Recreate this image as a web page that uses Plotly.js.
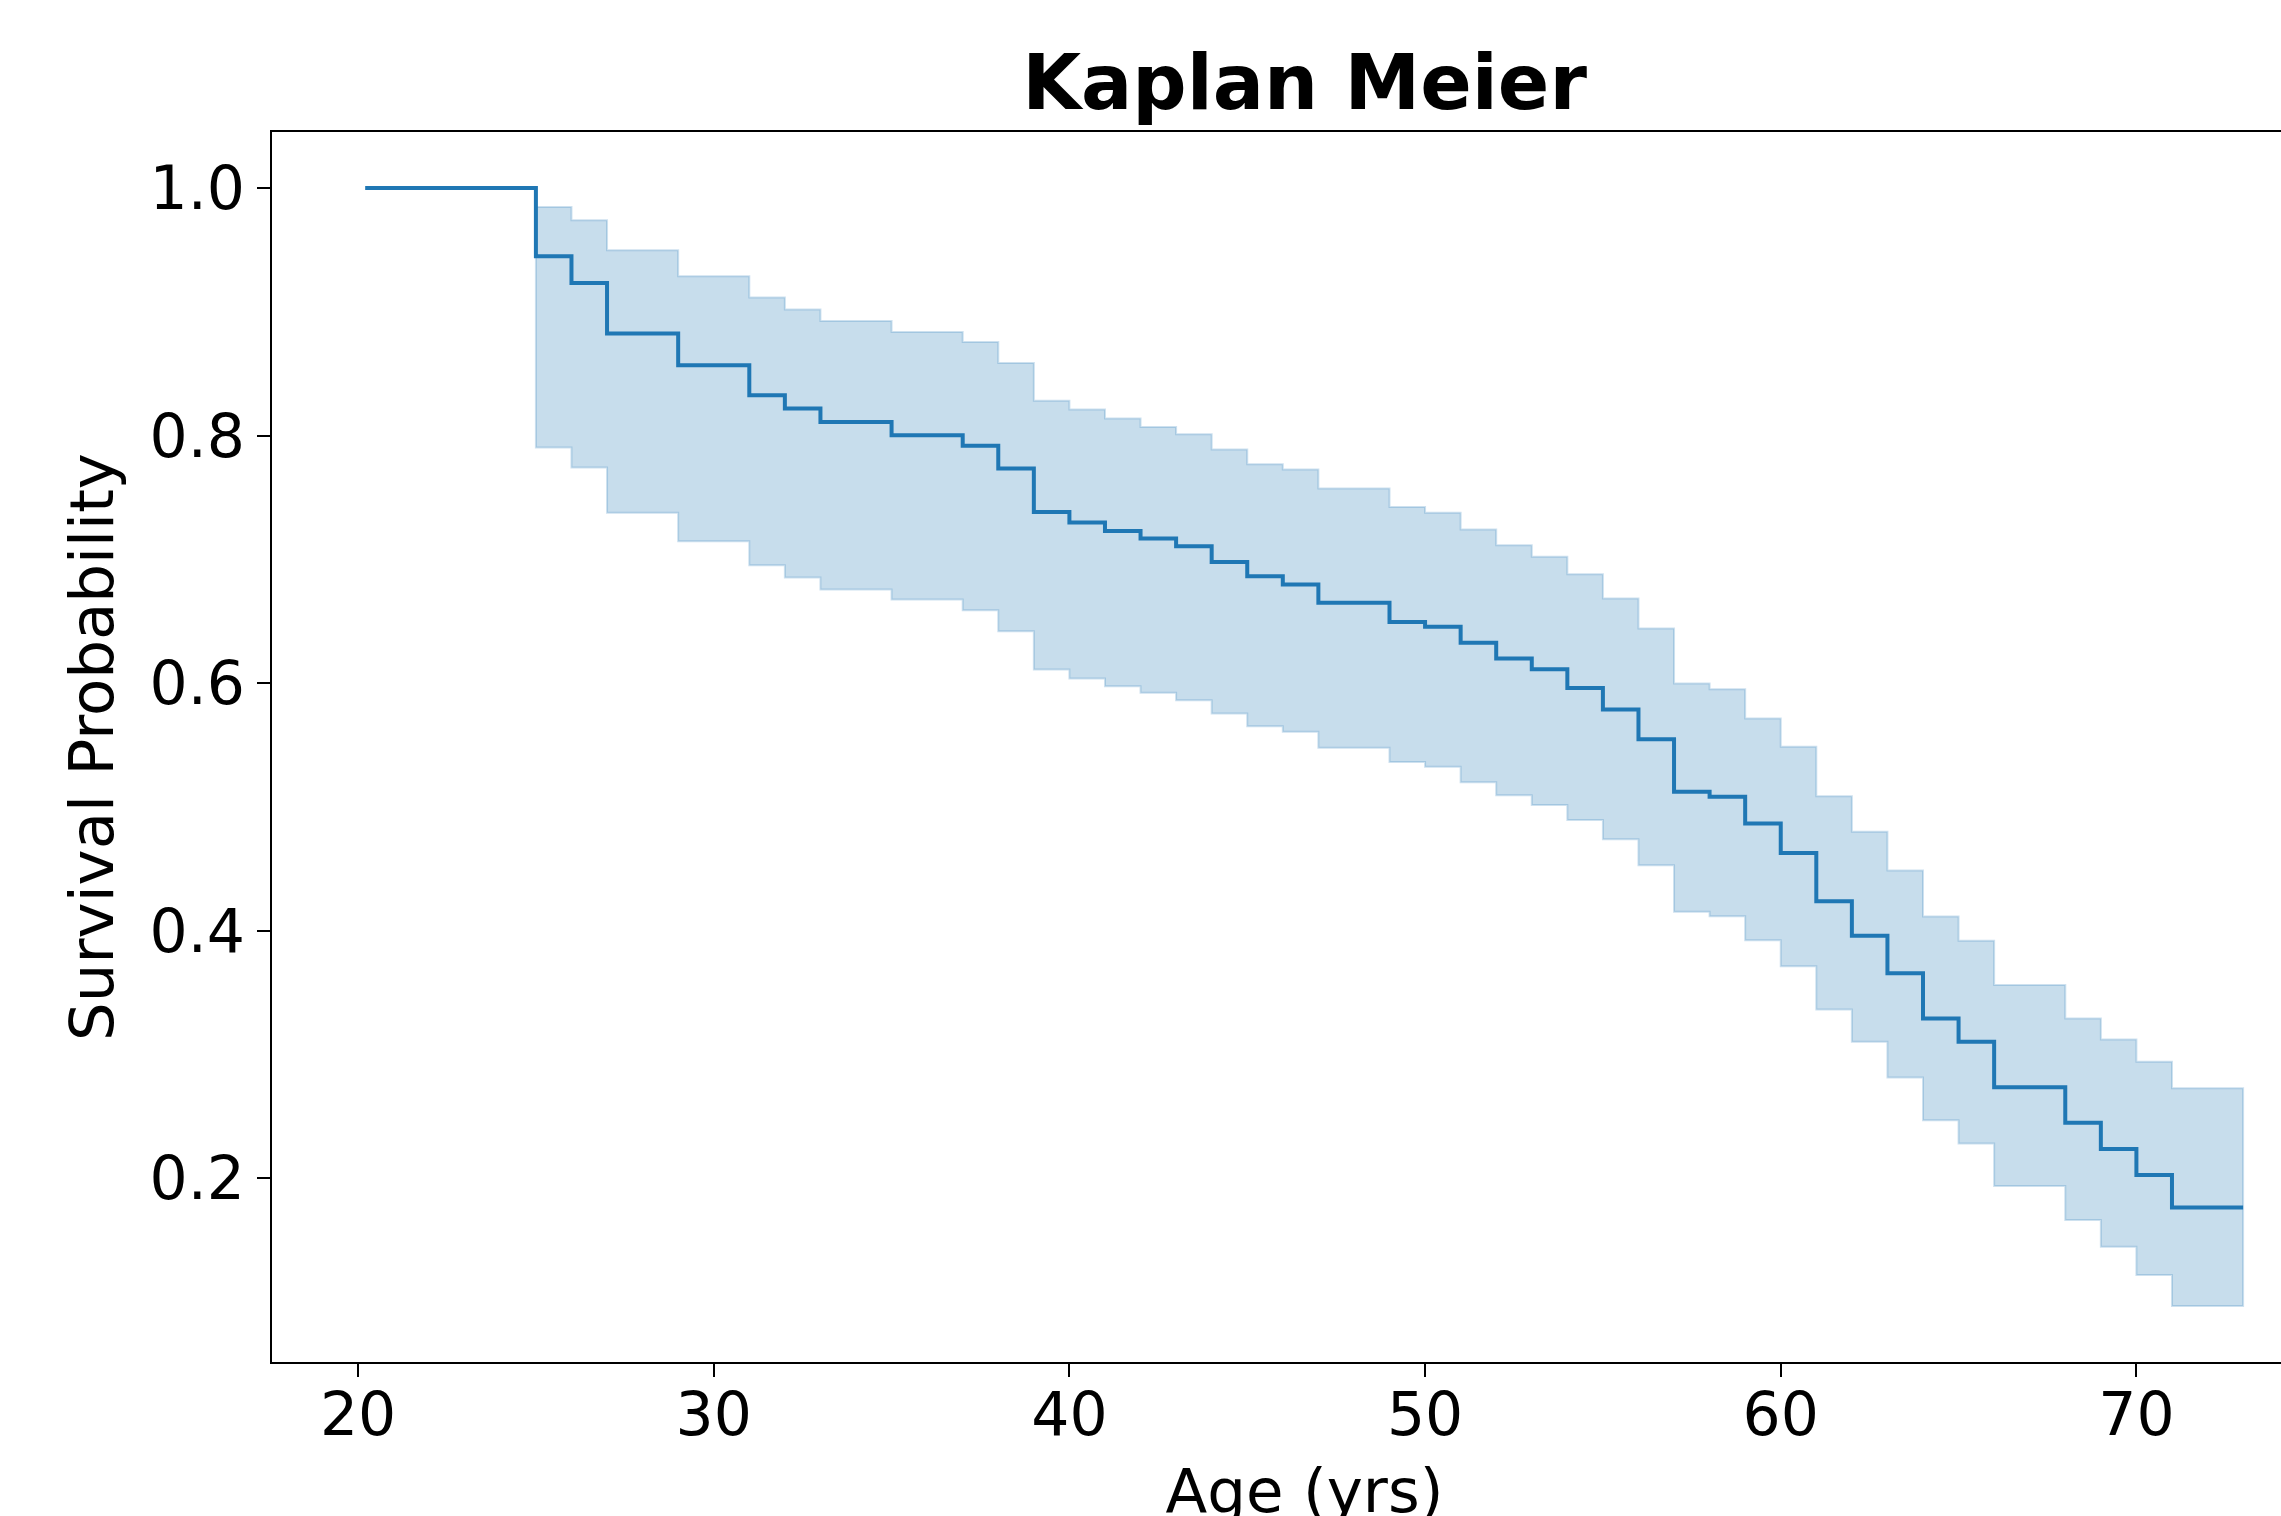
<!DOCTYPE html>
<html>
<head>
<meta charset="utf-8">
<script src="https://cdn.plot.ly/plotly-3.0.1.min.js"></script>
<style>
  html, body { margin: 0; padding: 0; overflow: hidden; background: #fff; }
  #chart { width: 2400px; height: 1560px; }
</style>
</head>
<body>
<div id="chart"></div>
<script>
// Kaplan-Meier estimate (step changes at event ages)
const startAge = 20.2;
const endAge = 73;
const eventAges = [25, 26, 27, 29, 31, 32, 33, 35, 37, 38, 39, 40, 41, 42, 43, 44, 45, 46, 47, 49,
                   50, 51, 52, 53, 54, 55, 56, 57, 58, 59, 60, 61, 62, 63, 64, 65, 66, 68, 69, 70, 71];
const survival = [0.9448, 0.9233, 0.8824, 0.8568, 0.8325, 0.8218, 0.8110, 0.8002, 0.7918, 0.7733,
                  0.7383, 0.7297, 0.7229, 0.7168, 0.7106, 0.6979, 0.6863, 0.6796, 0.6648, 0.6494,
                  0.6454, 0.6325, 0.6199, 0.6112, 0.5961, 0.5787, 0.5547, 0.5121, 0.5081, 0.4866,
                  0.4628, 0.4238, 0.3958, 0.3656, 0.3291, 0.3102, 0.2734, 0.2447, 0.2235, 0.2025, 0.1764];
const upperCI = [0.9847, 0.9739, 0.9497, 0.9287, 0.9115, 0.9018, 0.8926, 0.8837, 0.8756, 0.8586,
                 0.8280, 0.8210, 0.8137, 0.8069, 0.8010, 0.7887, 0.7768, 0.7725, 0.7572, 0.7423,
                 0.7375, 0.7241, 0.7114, 0.7020, 0.6880, 0.6683, 0.6441, 0.5997, 0.5951, 0.5714,
                 0.5485, 0.5086, 0.4798, 0.4485, 0.4114, 0.3918, 0.3560, 0.3291, 0.3121, 0.2940, 0.2726];
const lowerCI = [0.7903, 0.7741, 0.7375, 0.7146, 0.6952, 0.6853, 0.6756, 0.6675, 0.6589, 0.6418,
                 0.6110, 0.6037, 0.5975, 0.5921, 0.5862, 0.5754, 0.5652, 0.5606, 0.5477, 0.5363,
                 0.5323, 0.5198, 0.5094, 0.5014, 0.4893, 0.4739, 0.4529, 0.4152, 0.4117, 0.3923,
                 0.3713, 0.3363, 0.3102, 0.2814, 0.2469, 0.2281, 0.1936, 0.1662, 0.1446, 0.1217, 0.0967];
const xTicks = [20, 30, 40, 50, 60, 70];
const yTicks = [0.2, 0.4, 0.6, 0.8, 1.0];

// survival line (post-step)
const lineX = [startAge].concat(eventAges, [endAge]);
const lineY = [1.0].concat(survival, [survival[survival.length - 1]]);

// confidence band polygon built from the step arrays
function stepPoints(xs, ys, xEnd) {
  const px = [], py = [];
  for (let i = 0; i < xs.length; i++) {
    const xNext = (i + 1 < xs.length) ? xs[i + 1] : xEnd;
    px.push(xs[i], xNext);
    py.push(ys[i], ys[i]);
  }
  return [px, py];
}
const up = stepPoints(eventAges, upperCI, endAge);
const lo = stepPoints(eventAges, lowerCI, endAge);
const bandX = up[0].concat(lo[0].slice().reverse(), [up[0][0]]);
const bandY = up[1].concat(lo[1].slice().reverse(), [up[1][0]]);

const C0 = '#1f77b4';
const traces = [
  {
    x: bandX, y: bandY, type: 'scatter', mode: 'lines',
    fill: 'toself', fillcolor: 'rgba(31,119,180,0.25)',
    line: { color: 'rgba(31,119,180,0.22)', width: 2 },
    hoverinfo: 'skip', showlegend: false
  },
  {
    x: lineX, y: lineY, type: 'scatter', mode: 'lines',
    line: { color: C0, width: 4, shape: 'hv' },
    showlegend: false
  }
];

const axisCommon = {
  showgrid: false, zeroline: false,
  showline: true, mirror: true, linecolor: '#000', linewidth: 2,
  ticks: 'outside', ticklen: 13, tickwidth: 2, tickcolor: '#000',
  tickfont: { family: 'DejaVu Sans', size: 60, color: '#000' },
  automargin: false
};

const layout = {
  width: 2400, height: 1560,
  margin: { l: 272, r: 62.5, t: 132, b: 198 },
  paper_bgcolor: '#fff', plot_bgcolor: '#fff',
  font: { family: 'DejaVu Sans', color: '#000' },
  title: {
    text: '<b>Kaplan Meier</b>',
    font: { family: 'DejaVu Sans', size: 76, color: '#000' },
    x: 0.5, xref: 'paper', xanchor: 'center',
    y: 1, yref: 'paper', yanchor: 'bottom',
    pad: { b: 23 }
  },
  xaxis: Object.assign({}, axisCommon, {
    range: [17.58, 75.64],
    tickvals: xTicks,
    ticktext: xTicks.map(String),
    ticklabelstandoff: -14,
    title: { text: 'Age (yrs)', font: { family: 'DejaVu Sans', size: 61, color: '#000' }, standoff: 21 }
  }),
  yaxis: Object.assign({}, axisCommon, {
    range: [0.0515, 1.0452],
    tickvals: yTicks,
    ticktext: yTicks.map(v => v.toFixed(1)),
    ticklabelstandoff: 0,
    title: { text: 'Survival Probability', font: { family: 'DejaVu Sans', size: 61, color: '#000' }, standoff: 16 }
  }),
  showlegend: false
};

Plotly.newPlot('chart', traces, layout, { displayModeBar: false, staticPlot: true });
</script>
</body>
</html>
